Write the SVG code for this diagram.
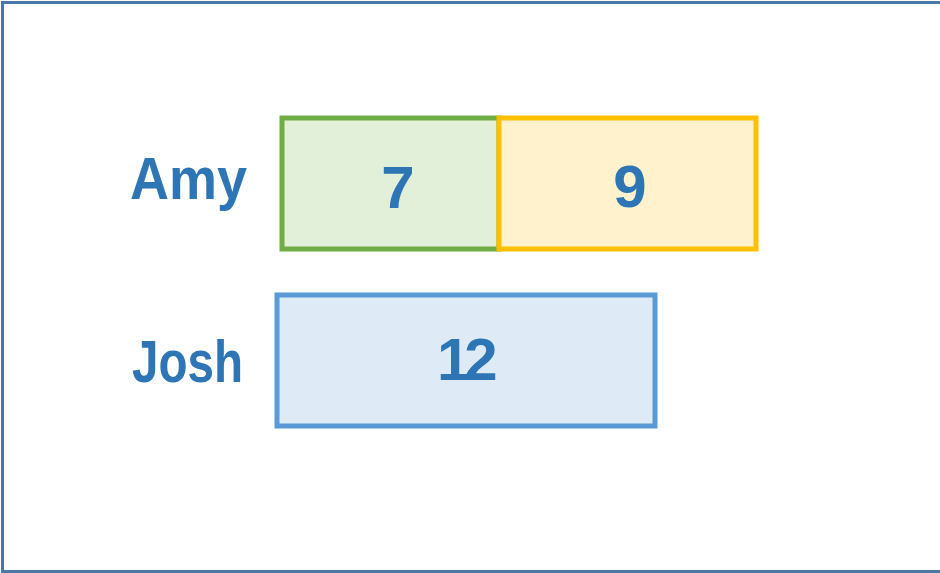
<svg xmlns="http://www.w3.org/2000/svg" width="940" height="573" viewBox="0 0 940 573">
<style>
.lbl{font-family:"Liberation Sans",Arial,sans-serif;font-weight:bold;fill:#2e75b6;font-size:60px}
.num{text-anchor:middle}
.box{stroke-width:5}
</style>
<rect x="0" y="0" width="940" height="573" fill="#ffffff"/>
<path d="M940,2.5 H2.5 V571.5 H940" fill="none" stroke="#4a76a8" stroke-width="3"/>
<g id="amy-label"><text class="lbl" x="130" y="199" textLength="117" lengthAdjust="spacingAndGlyphs">Amy</text></g>
<g id="josh-label"><text class="lbl" x="132" y="382" textLength="111" lengthAdjust="spacingAndGlyphs">Josh</text></g>
<g id="amy-7">
<rect class="box" x="282" y="118" width="217" height="131" fill="#e2efd9" stroke="#70ad47"/>
<text class="lbl num" x="398" y="208">7</text>
</g>
<g id="amy-9">
<rect class="box" x="499" y="118" width="257" height="131" fill="#fff2cc" stroke="#ffc000"/>
<text class="lbl num" x="630" y="207">9</text>
</g>
<g id="josh-12">
<rect class="box" x="277" y="295" width="378" height="131" fill="#deebf7" stroke="#5b9bd5"/>
<text class="lbl" x="437" y="380" letter-spacing="-6">12</text>
</g>
<g id="connectors"></g>
</svg>
